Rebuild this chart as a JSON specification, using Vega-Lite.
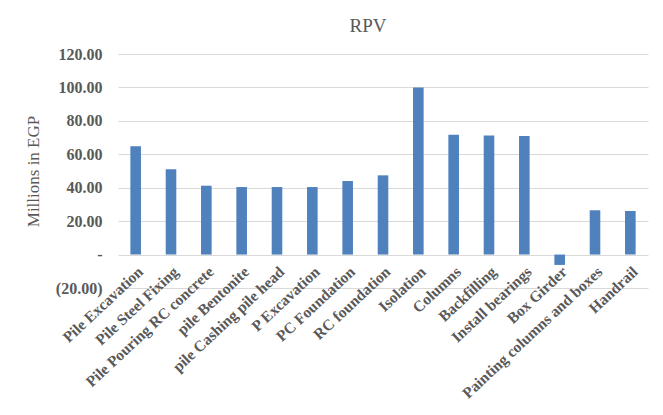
{
  "$schema": "https://vega.github.io/schema/vega-lite/v6.json",
  "autosize": "none",
  "width": 530,
  "height": 234,
  "padding": {"left": 118, "top": 54, "right": 15, "bottom": 127},
  "background": "white",
  "title": {"text": "RPV", "font": "Liberation Serif", "fontSize": 19, "fontWeight": "normal", "color": "#595959", "anchor": "middle", "dx": -15, "offset": 10},
  "data": {"values": [
    {"item": "Pile Excavation", "value": 64.8},
    {"item": "Pile Steel Fixing", "value": 51.1},
    {"item": "Pile Pouring RC concrete", "value": 41.2},
    {"item": "pile Bentonite", "value": 40.4},
    {"item": "pile Cashing pile head", "value": 40.4},
    {"item": "P Excavation", "value": 40.4},
    {"item": "PC Foundation", "value": 44.0},
    {"item": "RC foundation", "value": 47.4},
    {"item": "Isolation", "value": 100.0},
    {"item": "Columns", "value": 71.7},
    {"item": "Backfilling", "value": 71.3},
    {"item": "Install bearings", "value": 70.9},
    {"item": "Box Girder", "value": -6.2},
    {"item": "Painting columns and boxes", "value": 26.5},
    {"item": "Handrail", "value": 26.1}
  ]},
  "mark": {"type": "bar", "color": "#4f81bd"},
  "encoding": {
    "x": {
      "field": "item", "type": "nominal", "sort": null,
      "scale": {"paddingInner": 0.7, "paddingOuter": 0.35},
      "axis": {
        "title": null, "offset": -34, "domain": false, "ticks": false, "grid": false,
        "labelAngle": -43, "labelAlign": "right", "labelBaseline": "middle", "labelPadding": 15, "labelOffset": 5,
        "labelFont": "Liberation Serif", "labelFontWeight": "bold", "labelFontSize": 15.5,
        "labelColor": "#595959", "labelLimit": 300
      }
    },
    "y": {
      "field": "value", "type": "quantitative",
      "scale": {"domain": [-20, 120], "nice": false},
      "axis": {
        "title": "Millions in EGP", "titleFont": "Liberation Serif", "titleFontSize": 17,
        "titleFontWeight": "normal", "titleColor": "#595959", "titlePadding": 13,
        "values": [-20, 0, 20, 40, 60, 80, 100, 120],
        "labelExpr": "datum.value == 0 ? '-' : datum.value < 0 ? '(' + format(-datum.value, '.2f') + ')' : format(datum.value, '.2f')",
        "labelFont": "Liberation Serif", "labelFontWeight": "bold", "labelFontSize": 16,
        "labelColor": "#595959", "labelPadding": 16,
        "domain": false, "ticks": false, "grid": true, "gridColor": "#d9d9d9"
      }
    }
  },
  "config": {"view": {"stroke": null}}
}
